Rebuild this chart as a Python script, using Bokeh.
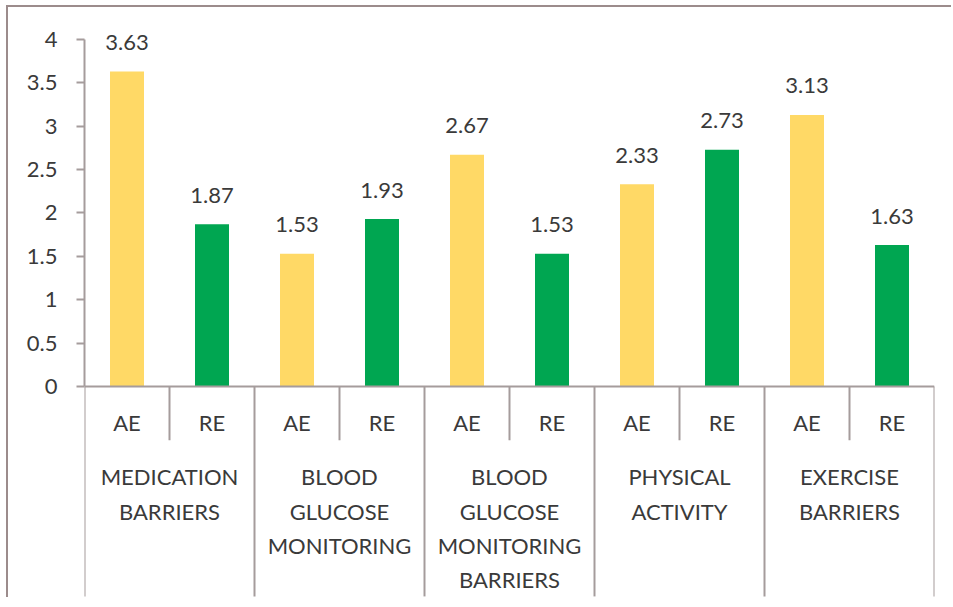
from bokeh.plotting import figure
from bokeh.models import Range1d, FixedTicker, ColumnDataSource
from bokeh.core.properties import value
from bokeh.embed import file_html
from bokeh.resources import INLINE

groups = ["MEDICATION\nBARRIERS", "BLOOD\nGLUCOSE\nMONITORING",
          "BLOOD\nGLUCOSE\nMONITORING\nBARRIERS", "PHYSICAL\nACTIVITY",
          "EXERCISE\nBARRIERS"]
subs = ["AE", "RE"]
ae_values = [3.63, 1.53, 2.67, 2.33, 3.13]
re_values = [1.87, 1.93, 1.53, 2.73, 1.63]
y_ticks = [0, 0.5, 1, 1.5, 2, 2.5, 3, 3.5, 4]
y_tick_labels = ["0", "0.5", "1", "1.5", "2", "2.5", "3", "3.5", "4"]

YELLOW = "#FFD966"
GREEN = "#00A651"
TXT = "#3A3A3A"
LINE = "#A59C9C"
FONT = "Lato"
FS = "22px"

n = len(groups)
ns = len(subs)

p = figure(width=945, height=592, output_backend="svg", toolbar_location=None,
           x_axis_type=None, x_range=Range1d(0, n * ns), y_range=Range1d(-2.444, 4.219),
           min_border_left=76, min_border_right=19, min_border_top=13, min_border_bottom=1,
           styles={"border-top": "2px solid #9C8C8C", "border-left": "2px solid #9C8C8C",
                   "margin-left": "6px", "margin-top": "5px"})
p.outline_line_color = None
p.ygrid.visible = False
p.background_fill_color = "white"
p.border_fill_color = "white"

ax = p.yaxis[0]
ax.bounds = (0, 4)
ax.ticker = FixedTicker(ticks=y_ticks)
ax.major_label_overrides = {t: l for t, l in zip(y_ticks, y_tick_labels)}
ax.minor_tick_line_color = None
ax.major_tick_in = 0
ax.major_tick_out = 8
ax.major_tick_line_color = LINE
ax.major_tick_line_width = 2
ax.axis_line_color = LINE
ax.axis_line_width = 2
ax.major_label_text_font = FONT
ax.major_label_text_font_size = FS
ax.major_label_text_color = TXT
ax.major_label_standoff = 19

ae_x = [i * ns + 0.5 for i in range(n)]
re_x = [i * ns + 1.5 for i in range(n)]

src_ae = ColumnDataSource(dict(x=ae_x, top=ae_values, lab=[f"{v:.2f}" for v in ae_values]))
src_re = ColumnDataSource(dict(x=re_x, top=re_values, lab=[f"{v:.2f}" for v in re_values]))

p.vbar(x="x", top="top", width=0.4, bottom=0, source=src_ae, color=YELLOW, line_color=None)
p.vbar(x="x", top="top", width=0.4, bottom=0, source=src_re, color=GREEN, line_color=None)

for s in (src_ae, src_re):
    p.text(x="x", y="top", text="lab", source=s, text_align="center", text_baseline="middle",
           y_offset=-29, text_font=value(FONT), text_font_size=FS, text_color=TXT)

# x axis line
p.segment(x0=[0], y0=[0], x1=[n * ns], y1=[0], line_color=LINE, line_width=2)

# group separators
gx = [i * ns for i in range(n + 1)]
p.segment(x0=gx, y0=[0] * len(gx), x1=gx, y1=[-2.42] * len(gx), line_color=LINE, line_width=2)
# sub separators
sx = [i * ns + 1 for i in range(n)]
p.segment(x0=sx, y0=[0] * len(sx), x1=sx, y1=[-0.62] * len(sx), line_color=LINE, line_width=2)

# sub labels
sub_x = [i * ns + j + 0.5 for i in range(n) for j in range(ns)]
sub_t = [subs[j] for i in range(n) for j in range(ns)]
p.text(x=sub_x, y=[0] * len(sub_x), text=sub_t, text_align="center", text_baseline="middle",
       y_offset=36, text_font=value(FONT), text_font_size=FS, text_color=TXT)

# group labels
grp_x = [i * ns + ns / 2 for i in range(n)]
p.text(x=grp_x, y=[0] * n, text=groups, text_align="center", text_baseline="top",
       y_offset=77, text_font=value(FONT), text_font_size=FS, text_color=TXT,
       text_line_height=1.26)

open("out.html", "w").write(file_html(p, INLINE))
